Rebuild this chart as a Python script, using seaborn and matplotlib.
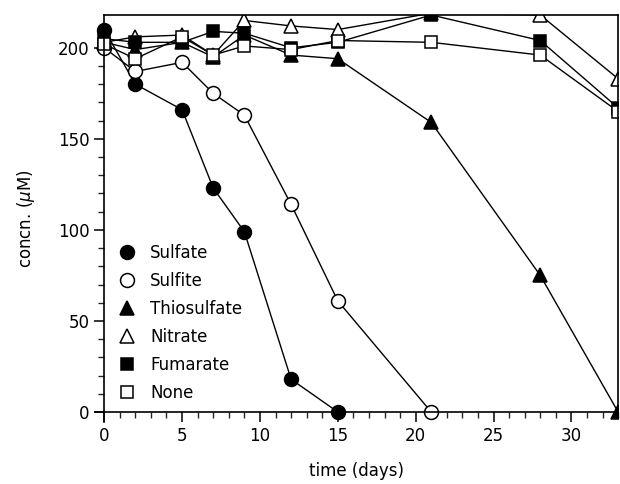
import numpy as np
import pandas as pd
import seaborn as sns
import matplotlib.pyplot as plt
from matplotlib.ticker import MultipleLocator

days = [0, 2, 5, 7, 9, 12, 15, 21, 28, 33]

sulfate = [210, 180, 166, 123, 99, 18, 0]
sulfite = [200, 187, 192, 175, 163, 114, 61, 0]
thiosulfate = [203, 199, 203, 195, 207, 196, 194, 159, 75, 0]
nitrate = [203, 206, 207, 196, 215, 212, 210, 219, 218, 183]
fumarate = [205, 203, 203, 209, 208, 200, 203, 218, 204, 167]
none = [202, 194, 206, 196, 201, 199, 204, 203, 196, 165]

series = [
    ("Sulfate", sulfate, "o", "black", 10),
    ("Sulfite", sulfite, "o", "white", 10),
    ("Thiosulfate", thiosulfate, "^", "black", 10),
    ("Nitrate", nitrate, "^", "white", 10),
    ("Fumarate", fumarate, "s", "black", 8.5),
    ("None", none, "s", "white", 8.5),
]

sns.set_style("ticks")
plt.rcParams['font.family'] = ['DejaVu Sans']
plt.rcParams['text.color'] = 'black'
plt.rcParams['axes.labelcolor'] = 'black'

fig = plt.figure(figsize=(6.2, 4.84), dpi=100)
ax = fig.add_axes([0.153, 0.128, 0.844, 0.841])

for name, vals, mk, fc, ms in series:
    df = pd.DataFrame({"day": days[:len(vals)], "conc": vals})
    sns.lineplot(data=df, x="day", y="conc", ax=ax, color="black", lw=1.0,
                 marker=mk, markersize=ms, markerfacecolor=fc,
                 markeredgecolor="black", markeredgewidth=1.1, label=name)

ax.set_xlim(-0.6, 33)
ax.set_ylim(-5.5, 218)
ax.spines['left'].set_position(('data', 0))
ax.spines['bottom'].set_position(('data', 0))
ax.spines['top'].set_bounds(0, 33)
ax.spines['right'].set_bounds(0, 218)
for s in ax.spines.values():
    s.set_linewidth(1.2)
    s.set_color("black")

ax.xaxis.set_major_locator(MultipleLocator(5))
ax.xaxis.set_minor_locator(MultipleLocator(1))
ax.yaxis.set_major_locator(MultipleLocator(50))
ax.yaxis.set_minor_locator(MultipleLocator(10))
ax.tick_params(which='major', direction='out', length=7, width=1.1, labelsize=12, colors='black')
ax.tick_params(which='minor', direction='out', length=4, width=1.0)
ax.set_yticks([0, 50, 100, 150, 200])

ax.set_xlabel("time (days)", fontsize=12)
ax.set_ylabel(r"concn. ($\mu$M)", fontsize=12)
ax.xaxis.set_label_coords(0.5, -0.098)
ax.yaxis.set_label_coords(-0.11, 0.5)

leg = ax.legend(loc='lower left', bbox_to_anchor=(0.02, 0.02), frameon=False,
                fontsize=12, labelspacing=0.6, handlelength=1.2,
                handletextpad=0.8, borderaxespad=0.3)
for h in leg.legend_handles:
    h.set_linestyle('none')
for t in leg.get_texts():
    t.set_color('black')

fig.savefig("out.png", dpi=100)
